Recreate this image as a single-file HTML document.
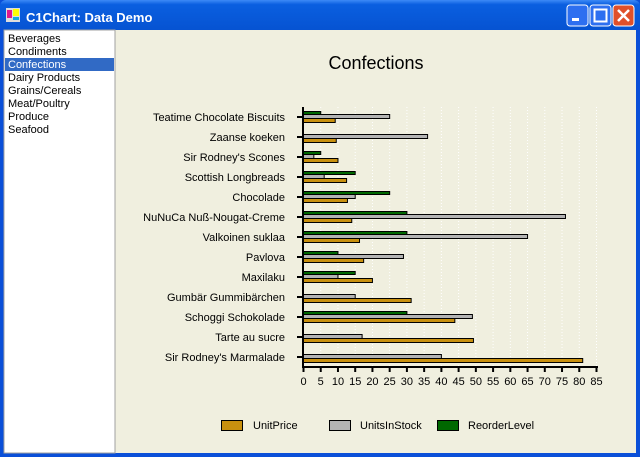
<!DOCTYPE html>
<html><head><meta charset="utf-8"><style>
body{margin:0;width:640px;height:457px;overflow:hidden;font-family:"Liberation Sans",sans-serif}
</style></head><body>
<svg width="640" height="457" xmlns="http://www.w3.org/2000/svg" font-family="Liberation Sans, sans-serif">
<defs><linearGradient id="tb" x1="0" y1="0" x2="0" y2="1"><stop offset="0" stop-color="#3d8af7"/><stop offset="0.15" stop-color="#0a5fe0"/><stop offset="1" stop-color="#0653d2"/></linearGradient></defs>
<rect x="0" y="0" width="640" height="457" fill="#0a4fd8"/>
<rect x="0" y="0" width="640" height="30" fill="url(#tb)" rx="6"/>
<g><rect x="6" y="8" width="14" height="14" fill="#ddd"/><rect x="7" y="10" width="5" height="8" fill="#e0188f"/><rect x="13" y="9" width="6" height="7" fill="#ff0"/><rect x="13" y="17" width="6" height="3" fill="#1ad"/></g>
<text x="26" y="22" font-size="13" font-weight="bold" fill="#fff">C1Chart: Data Demo</text>
<g><rect x="567" y="5" width="21" height="21" rx="3" fill="#2d6ff0" stroke="#fff"/><rect x="572" y="18" width="7" height="3" fill="#fff"/></g>
<g><rect x="590" y="5" width="21" height="21" rx="3" fill="#2d6ff0" stroke="#fff"/><rect x="594.5" y="9.5" width="12" height="12" fill="none" stroke="#fff" stroke-width="2"/></g>
<g><rect x="613" y="5" width="21" height="21" rx="3" fill="#e0502a" stroke="#fff"/><path d="M618 10l11 11M629 10l-11 11" stroke="#fff" stroke-width="2.5"/></g>
<rect x="4" y="30" width="632" height="423" fill="#f0efdf"/>
<g>
<rect x="4" y="30" width="111" height="423" fill="#fff" stroke="#a0a0a0"/>
<rect x="5" y="58" width="109" height="13" fill="#316ac5"/>
<g font-size="11" fill="#000">
<text x="8" y="42">Beverages</text>
<text x="8" y="55">Condiments</text>
<text x="8" y="68" fill="#fff">Confections</text>
<text x="8" y="81">Dairy Products</text>
<text x="8" y="94">Grains/Cereals</text>
<text x="8" y="107">Meat/Poultry</text>
<text x="8" y="120">Produce</text>
<text x="8" y="133">Seafood</text>
</g></g>
<text x="376" y="69" font-size="18" text-anchor="middle" fill="#000">Confections</text>
<g id="plot"></g>
<g font-size="11">
<rect x="221.5" y="420.5" width="21" height="10" fill="#c8900f" stroke="#000"/>
<text x="253" y="429">UnitPrice</text>
<rect x="329.5" y="420.5" width="21" height="10" fill="#b4b4b4" stroke="#000"/>
<text x="360" y="429">UnitsInStock</text>
<rect x="437.5" y="420.5" width="21" height="10" fill="#006800" stroke="#000"/>
<text x="468" y="429">ReorderLevel</text>
</g>
</svg>
<script>
const categories=["Teatime Chocolate Biscuits","Zaanse koeken","Sir Rodney's Scones","Scottish Longbreads","Chocolade","NuNuCa Nuß-Nougat-Creme","Valkoinen suklaa","Pavlova","Maxilaku","Gumbär Gummibärchen","Schoggi Schokolade","Tarte au sucre","Sir Rodney's Marmalade"];
const unitPrice=[9.2,9.5,10,12.5,12.75,14,16.25,17.45,20,31.23,43.9,49.3,81];
const unitsInStock=[25,36,3,6,15,76,65,29,10,15,49,17,40];
const reorderLevel=[5,0,5,15,25,30,30,10,15,0,30,0,0];
const xTicks=[0,5,10,15,20,25,30,35,40,45,50,55,60,65,70,75,80,85];
const NS="http://www.w3.org/2000/svg";
const g=document.getElementById('plot');
const x0=303.5,x1=596.5,xMax=85;
const X=v=>x0+(v/xMax)*(x1-x0);
const Y=i=>117+i*20;
function mk(t,a){const e=document.createElementNS(NS,t);for(const k in a)e.setAttribute(k,a[k]);g.appendChild(e);return e;}
xTicks.forEach(t=>{if(t>0){const l=mk('line',{x1:X(t),x2:X(t),y1:107,y2:367,stroke:'#fff','stroke-dasharray':'1,2'});

}
const tk=mk('line',{x1:X(t),x2:X(t),y1:367,y2:372,stroke:'#000','stroke-width':2});


const tx=mk('text',{x:X(t),y:385,'font-size':11,'text-anchor':'middle'});tx.textContent=t;

});
categories.forEach((c,i)=>{const y=Y(i);
const tk=mk('line',{x1:297,x2:303,y1:y,y2:y,stroke:'#000','stroke-width':2});


const t=mk('text',{x:285,y:y+4,'font-size':11,'text-anchor':'end'});t.textContent=c;


const series=[[reorderLevel,'#006800',-5.5,3],[unitsInStock,'#b4b4b4',-2.5,4],[unitPrice,'#c8900f',1.5,4]];
series.forEach(([arr,col,off,h])=>{if(arr[i]<=0)return;
const r=mk('rect',{x:x0,y:y+off,width:X(arr[i])-x0,height:h,fill:col,stroke:'#000','stroke-width':1});

});});
const ax=mk('line',{x1:303,x2:303,y1:107,y2:368,stroke:'#000','stroke-width':2});


const bx=mk('line',{x1:302,x2:598,y1:367,y2:367,stroke:'#000','stroke-width':2});


</script>
</body></html>
